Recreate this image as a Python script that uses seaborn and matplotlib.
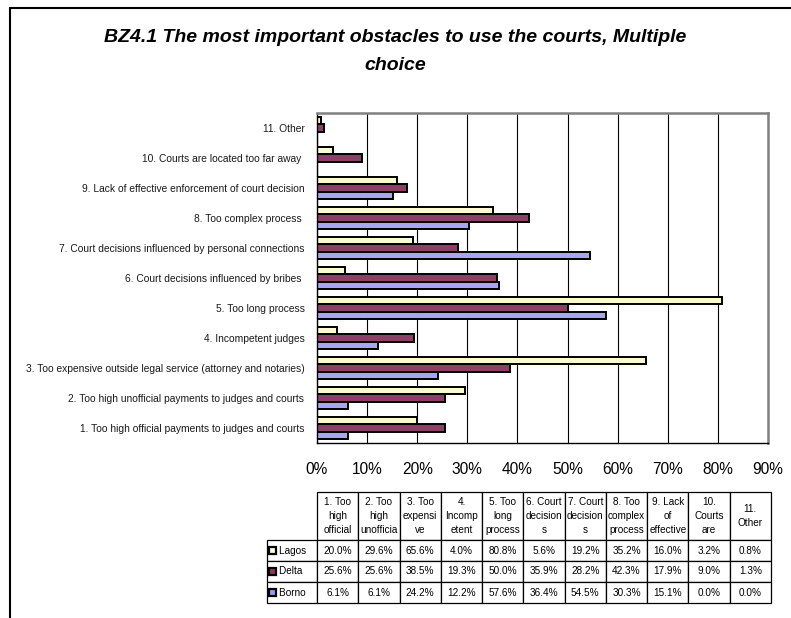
import pandas as pd
import seaborn as sns
import matplotlib.pyplot as plt
import numpy as np
from matplotlib.patches import Rectangle
from matplotlib.lines import Line2D

# Data (percent), categories 1..11
categories = [
    "1. Too high official payments to judges and courts",
    "2. Too high unofficial payments to judges and courts",
    "3. Too expensive outside legal service (attorney and notaries)",
    "4. Incompetent judges",
    "5. Too long process",
    "6. Court decisions influenced by bribes ",
    "7. Court decisions influenced by personal connections",
    "8. Too complex process ",
    "9. Lack of effective enforcement of court decision",
    "10. Courts are located too far away ",
    "11. Other",
]
table_headers = [
    "1. Too\nhigh\nofficial", "2. Too\nhigh\nunofficia", "3. Too\nexpensi\nve",
    "4.\nIncomp\netent", "5. Too\nlong\nprocess", "6. Court\ndecision\ns",
    "7. Court\ndecision\ns", "8. Too\ncomplex\nprocess", "9. Lack\nof\neffective",
    "10.\nCourts\nare", "11.\nOther",
]
cities = ["Lagos", "Delta", "Borno"]
lagos = [20.0, 29.6, 65.6, 4.0, 80.8, 5.6, 19.2, 35.2, 16.0, 3.2, 0.8]
delta = [25.6, 25.6, 38.5, 19.3, 50.0, 35.9, 28.2, 42.3, 17.9, 9.0, 1.3]
borno = [6.1, 6.1, 24.2, 12.2, 57.6, 36.4, 54.5, 30.3, 15.1, 0.0, 0.0]
colors = ["#FFFFCC", "#993366", "#9999FF"]

df = pd.DataFrame({"category": categories, "Lagos": lagos, "Delta": delta, "Borno": borno})
long_df = df.melt(id_vars="category", var_name="city", value_name="pct")

sns.set_style("white")
plt.rcParams["font.family"] = ["Liberation Sans", "DejaVu Sans"]
plt.rcParams["text.color"] = "black"
plt.rcParams["xtick.color"] = "black"
plt.rcParams["ytick.color"] = "black"

W, H = 791, 618
fig = plt.figure(figsize=(W / 100, H / 100), dpi=100)

def fx(px):
    return px / W

def fy(py):
    return 1 - py / H

# outer chart border (left and top only visible)
fig.add_artist(Line2D([fx(9.5), fx(9.5)], [fy(8), 0], color="black", lw=1.5))
fig.add_artist(Line2D([fx(9.5), 1], [fy(8), fy(8)], color="black", lw=1.5))

fig.text(0.5, fy(38), "BZ4.1 The most important obstacles to use the courts, Multiple",
         ha="center", va="center", fontsize=14, fontweight="bold", fontstyle="italic")
fig.text(0.5, fy(66), "choice", ha="center", va="center", fontsize=14,
         fontweight="bold", fontstyle="italic")

# bar chart
left, right, top, bottom = 317, 768, 113, 443
ax = fig.add_axes([fx(left), fy(bottom), fx(right - left), (bottom - top) / H])
sns.barplot(data=long_df, x="pct", y="category", hue="city",
            order=categories[::-1], hue_order=cities, palette=colors,
            orient="h", width=0.72, edgecolor="black", linewidth=1.4,
            errorbar=None, legend=False, ax=ax)
ax.set_xlim(0, 90)
ax.set_ylim(len(categories) - 0.5, -0.5)
ax.set_xticks(np.arange(0, 91, 10))
ax.set_xticklabels([f"{v}%" for v in range(0, 91, 10)], fontsize=11.2)
ax.tick_params(axis="x", direction="out", length=4, width=1, pad=10)
ax.tick_params(axis="y", length=0, labelsize=7.4, pad=9, labelcolor="#1a1a1a")
ax.set_yticks(np.arange(-0.5, len(categories), 1), minor=True)
ax.tick_params(axis="y", which="minor", direction="out", length=4, width=1)
ax.set_xlabel("")
ax.set_ylabel("")
ax.grid(axis="x", color="black", linewidth=0.8)
ax.set_axisbelow(True)
for side in ["top", "right"]:
    ax.spines[side].set_color("#808080")
    ax.spines[side].set_linewidth(1.8)
for side in ["left", "bottom"]:
    ax.spines[side].set_color("black")
    ax.spines[side].set_linewidth(1.0)

# data table underneath
t_left, t_right, t_top, t_bottom = 267, 771, 492, 603
tab_ax = fig.add_axes([fx(t_left), fy(t_bottom), fx(t_right - t_left), (t_bottom - t_top) / H])
tab_ax.axis("off")
cell_text = [[""] + table_headers]
for city, vals in zip(cities, [lagos, delta, borno]):
    cell_text.append(["    " + city] + [f"{v:.1f}%" for v in vals])
label_w = (317 - t_left) / (t_right - t_left)
col_w = (1 - label_w) / len(categories)
tbl = tab_ax.table(cellText=cell_text, colWidths=[label_w] + [col_w] * len(categories),
                   cellLoc="center", bbox=[0, 0, 1, 1])
tbl.auto_set_font_size(False)
tbl.set_fontsize(7.2)
row_h = [48, 21, 21, 21]
for (r, c), cell in tbl.get_celld().items():
    cell.set_height(row_h[r])
    cell.set_linewidth(0.9)
    if r == 0:
        cell.get_text().set_linespacing(1.45)
    if r == 0 and c == 0:
        cell.visible_edges = ""
    if c == 0 and r > 0:
        cell.get_text().set_ha("left")
        cell._loc = "left"
        cell.PAD = 0.01

# legend keys in the row label cells
row_top = t_top + row_h[0]
for i, col in enumerate(colors):
    cy = row_top + row_h[1] * (i + 0.5)
    fig.add_artist(Rectangle((fx(268.5), fy(cy + 3.5)), fx(7), 7 / H,
                             facecolor=col, edgecolor="black", linewidth=1.6))

fig.savefig("out.png", dpi=100)
